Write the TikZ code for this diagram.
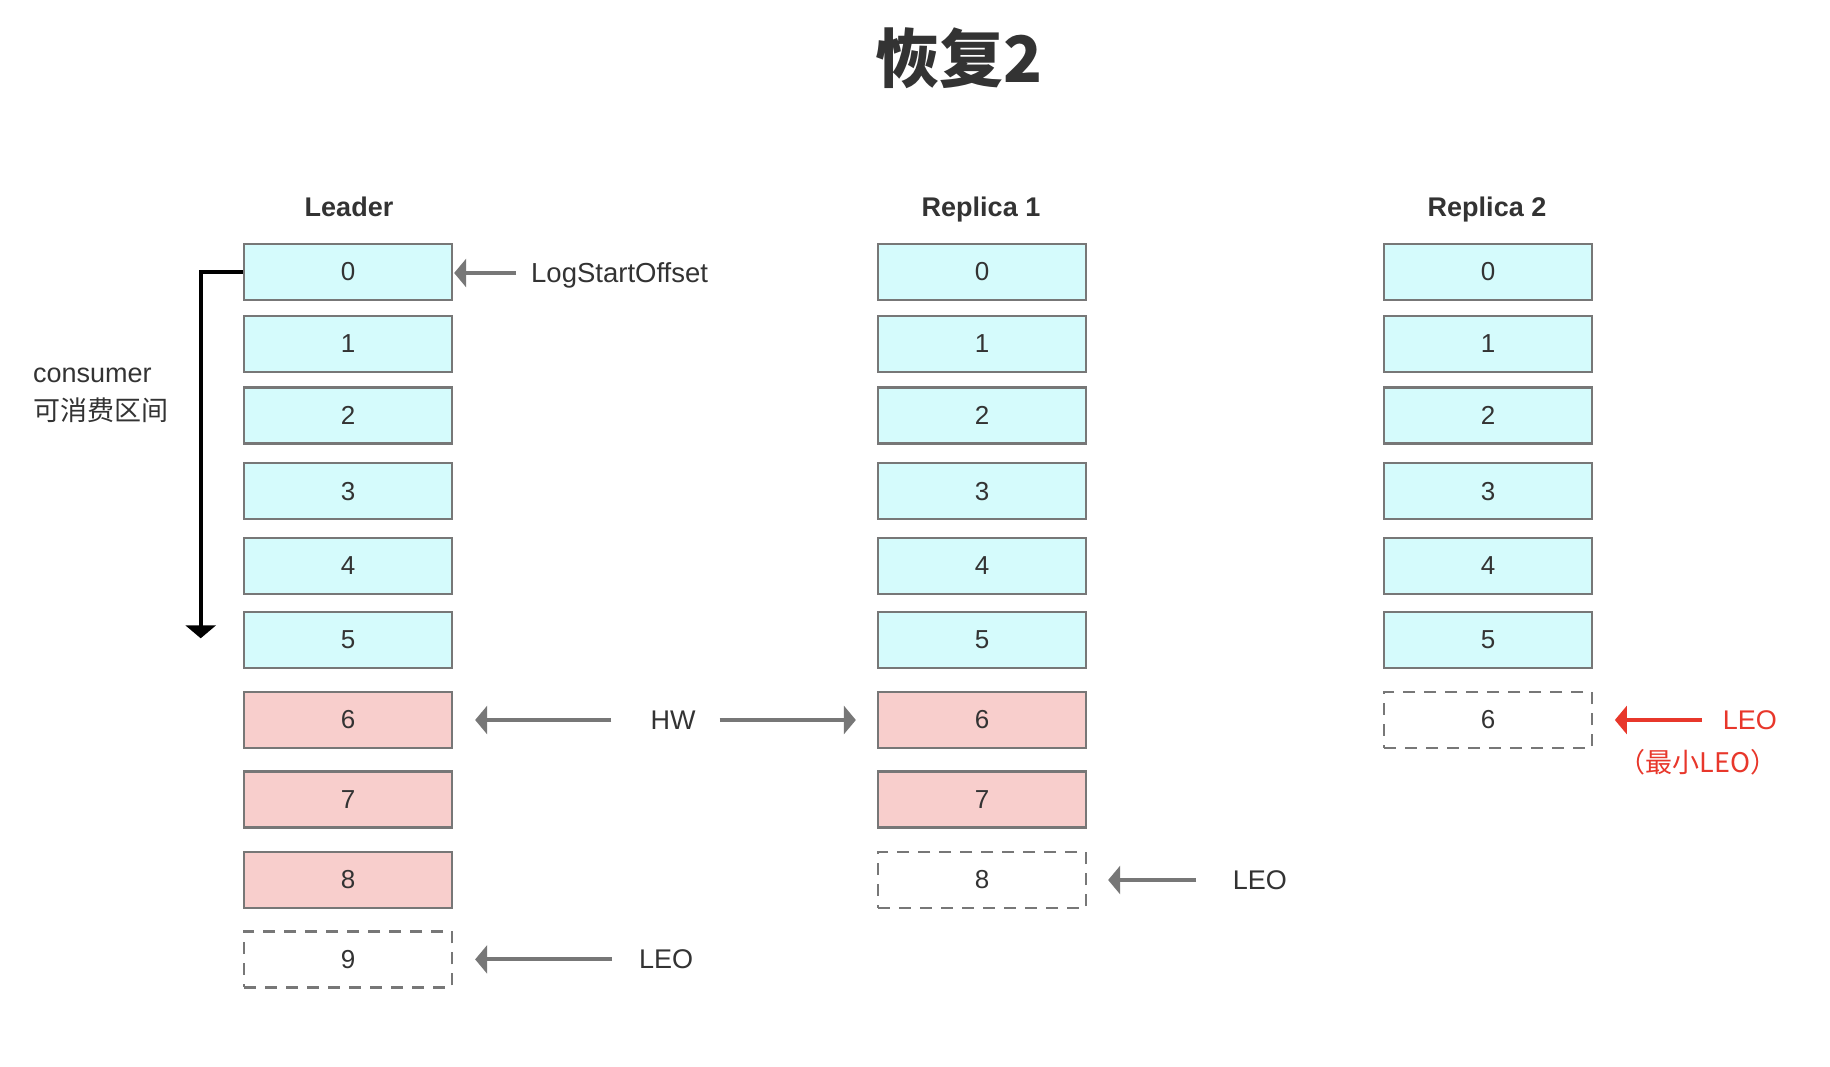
\documentclass[tikz,border=0pt]{standalone}
\usepackage{fontspec}
\setmainfont{Liberation Sans}
\newfontfamily\cjk{Noto Sans CJK SC}
\usetikzlibrary{arrows.meta}
\definecolor{txt}{HTML}{333333}
\definecolor{edge}{HTML}{777777}
\definecolor{cyanf}{HTML}{D5FBFC}
\definecolor{pinkf}{HTML}{F8CECC}
\definecolor{redc}{HTML}{E8372B}
\begin{document}
\begin{tikzpicture}[x=1pt,y=-1pt,
  cellbase/.style={draw=edge,line width=2.3pt,minimum width=208pt,minimum height=56pt,inner sep=0pt,text=txt,font=\fontsize{26}{30}\selectfont},
  cellc/.style={cellbase,fill=cyanf},
  cellp/.style={cellbase,fill=pinkf},
  celld/.style={cellbase,fill=white,dash pattern=on 12pt off 9pt},
  lbl/.style={text=txt,font=\fontsize{27}{32}\selectfont,inner sep=0pt,text depth=0pt},
  hdr/.style={lbl,font=\fontsize{27}{32}\selectfont\bfseries},
  garrow/.style={draw=edge,line width=4pt,-{Triangle[length=12pt,width=28pt]}},
  rarrow/.style={draw=redc,line width=4pt,-{Triangle[length=12pt,width=28pt]}},
  barrow/.style={draw=black,line width=4pt,-{Triangle[length=13pt,width=30pt]}}]
\useasboundingbox[fill=white] (0,0) rectangle (1830,1066);

% title
\node[text=txt,inner sep=0pt,font=\cjk\fontsize{64}{70}\selectfont\bfseries] (title) at (959,58) {恢复2};

% headers
\node[hdr] (hl) at (349,207) {Leader};
\node[hdr] (hr1) at (981,207) {Replica 1};
\node[hdr] (hr2) at (1487,207) {Replica 2};

% leader column
\foreach \i/\y/\st in {0/272/cellc,1/344/cellc,2/415.5/cellc,3/491.3/cellc,4/566/cellc,5/640/cellc,6/720/cellp,7/799.5/cellp,8/880/cellp,9/959.4/celld}
  \node[\st] (l\i) at (348,\y) {\i};
% replica 1 column
\foreach \i/\y/\st in {0/272/cellc,1/344/cellc,2/415.5/cellc,3/491.3/cellc,4/566/cellc,5/640/cellc,6/720/cellp,7/799.5/cellp,8/880/celld}
  \node[\st] (r\i) at (982,\y) {\i};
% replica 2 column
\foreach \i/\y/\st in {0/272/cellc,1/344/cellc,2/415.5/cellc,3/491.3/cellc,4/566/cellc,5/640/cellc,6/720/celld}
  \node[\st] (s\i) at (1488,\y) {\i};

% labels
\node[lbl,anchor=west,font=\fontsize{27.5}{32}\selectfont] (lso) at (531,273) {LogStartOffset};
\node[lbl] (hw) at (673,720) {HW};
\node[lbl,anchor=west] (leo9) at (639,959.4) {LEO};
\node[lbl,anchor=west] (leo8) at (1232.7,880) {LEO};
\node[lbl,anchor=west,text=redc] (leo6) at (1722.7,720) {LEO};
\node[inner sep=0pt,text=redc,font=\cjk\fontsize{27}{32}\selectfont] (minleo) at (1698,762) {（最小LEO）};
\node[lbl,anchor=base west] (cons1) at (33,382) {consumer};
\node[lbl,anchor=base west,font=\cjk\fontsize{27}{32}\selectfont] (cons2) at (33,420) {可消费区间};

% arrows
\draw[garrow] ([xshift=-15pt]lso.west) -- ([xshift=1pt]l0.east |- lso.west);
\draw[garrow] ([xshift=-39pt]hw.west) -- ([xshift=22pt]l6.east);
\draw[garrow] ([xshift=24pt]hw.east) -- ([xshift=-21pt]r6.west);
\draw[garrow] ([xshift=-27pt]leo9.west) -- ([xshift=22pt]l9.east);
\draw[garrow] ([xshift=-36.7pt]leo8.west) -- ([xshift=21pt]r8.east);
\draw[rarrow] ([xshift=-21pt]leo6.west) -- ([xshift=21.7pt]s6.east);

% consumer range bracket
\coordinate (cend) at (200.7,638.3);
\draw[barrow] (l0.west) -| (cend);
\end{tikzpicture}
\end{document}
